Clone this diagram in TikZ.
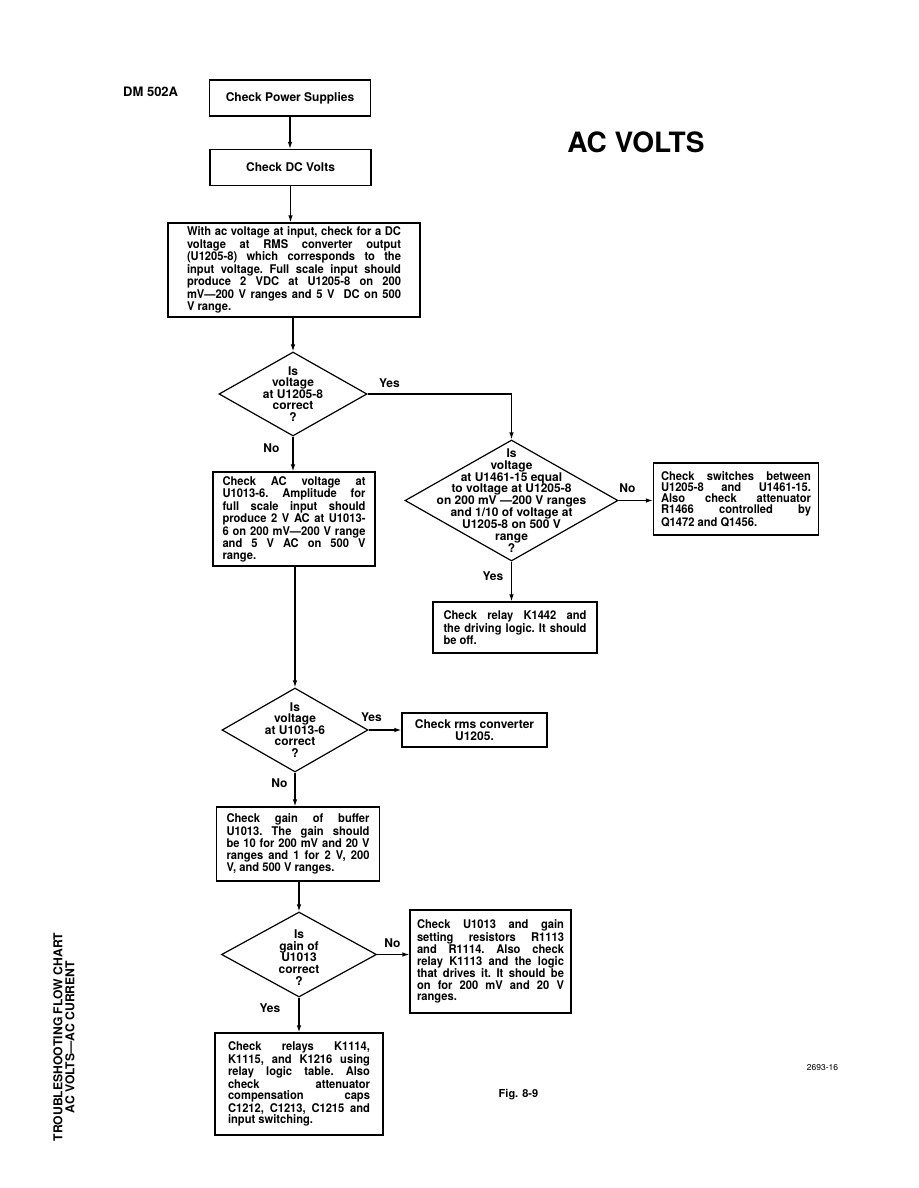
\documentclass[tikz,border=0pt]{standalone}
\usepackage{fontspec}
\setmainfont{TeX Gyre Heros}
\newfontfamily\condfont[FakeStretch=0.93]{TeX Gyre Heros}
\usetikzlibrary{shapes.geometric,arrows.meta}
\newcommand\bxfont{\condfont\fontsize{12}{11.3}\selectfont\bfseries\frenchspacing\tolerance=10000 \hbadness=10000 \hyphenpenalty=10000 }
\newcommand\lbfont{\fontsize{12}{11.6}\selectfont\bfseries}
\tikzset{
  box/.style={draw, line width=1.2pt, inner ysep=0pt, font=\bxfont, align=justify},
  cbox/.style={draw, line width=1.2pt, inner sep=0pt, font=\fontsize{12}{12}\selectfont\bfseries, align=center},
  dia/.style={draw, diamond, line width=1.2pt, inner sep=0pt},
  dtext/.style={font=\lbfont, align=center, inner sep=0pt},
  lbl/.style={font=\lbfont, inner sep=0pt},
  arr/.style={line width=1.2pt, -{Latex[length=7pt,width=4.5pt]}},
}
\begin{document}
\begin{tikzpicture}[x=1pt,y=-1pt]
\useasboundingbox (0,0) rectangle (918,1188);
\fill[white] (0,0) rectangle (918,1188);

% titles
\node[font=\fontsize{13}{13}\selectfont\bfseries, anchor=base west, inner sep=0pt] (dm) at (123,97) {DM 502A};
\node[font=\fontsize{28}{28}\selectfont\bfseries, anchor=base, inner sep=0pt] (title) at (636,153) {AC VOLTS};

% boxes
\node[cbox, minimum width=161pt, minimum height=36pt] (pwr) at (290,98) {Check Power Supplies};
\node[cbox, minimum width=161pt, minimum height=36pt] (dcv) at (290.5,167.5) {Check DC Volts};
\node[box, text width=214pt, inner xsep=19pt, minimum height=94pt] (b3) at (294,270)
 {With ac voltage at input, check for a DC\linebreak voltage at RMS converter output\linebreak (U1205-8) which corresponds to the\linebreak input voltage. Full scale input should\linebreak produce 2 VDC at U1205-8 on 200\linebreak mV—200 V ranges and 5 V\ \ DC on 500\linebreak V range.};

\node[dia, minimum width=148pt, minimum height=84pt] (d1) at (293,394) {};
\node[dtext] (d1t) at (d1.center) {Is\\voltage\\at U1205-8\\correct\\?};

\node[box, text width=143pt, inner xsep=9.5pt, minimum height=94pt] (b4) at (294,519)
 {Check AC voltage at\linebreak U1013-6. Amplitude for\linebreak full scale input should\linebreak produce 2 V AC at U1013-\linebreak 6 on 200 mV—200 V range\linebreak and 5 V AC on 500 V\linebreak range.};

\node[dia, minimum width=213pt, minimum height=121pt] (d2) at (511.5,500.5) {};
\node[dtext, font=\fontsize{12}{11.9}\selectfont\bfseries] (d2t) at (d2.center) {Is\\voltage\\at U1461-15 equal\\to voltage at U1205-8\\on 200 mV —200 V ranges\\and 1/10 of voltage at\\U1205-8 on 500 V\\range\\?};

\node[box, text width=150pt, inner xsep=7.5pt, minimum height=72pt] (b5) at (736,499)
 {Check switches between\linebreak U1205-8 and U1461-15.\linebreak Also check attenuator\linebreak R1466 controlled by\linebreak Q1472 and Q1456.};

\node[box, text width=143pt, inner xsep=10.5pt, minimum height=51pt] (b6) at (515,627.5)
 {Check relay K1442 and\linebreak the driving logic. It should\linebreak be off.};

\node[dia, minimum width=146pt, minimum height=84pt] (d3) at (295,730) {};
\node[dtext] (d3t) at (d3.center) {Is\\voltage\\at U1013-6\\correct\\?};

\node[cbox, minimum width=145pt, minimum height=34pt, font=\fontsize{12}{11.5}\selectfont\bfseries] (b7) at (474.5,730) {Check rms converter\\U1205.};

\node[box, text width=143pt, inner xsep=10pt, minimum height=74pt] (b8) at (298,844)
 {Check gain of buffer\linebreak U1013. The gain should\linebreak be 10 for 200 mV and 20 V\linebreak ranges and 1 for 2 V, 200\linebreak V, and 500 V ranges.};

\node[dia, minimum width=155pt, minimum height=85pt] (d4) at (299,954.5) {};
\node[dtext] (d4t) at ([yshift=-3pt]d4.center) {Is\\gain of\\U1013\\correct\\?};

\node[box, text width=147pt, inner xsep=7pt, minimum height=103pt] (b9) at (490.5,961.5)
 {Check U1013 and gain\linebreak setting resistors R1113\linebreak and R1114. Also check\linebreak relay K1113 and the logic\linebreak that drives it. It should be\linebreak on for 200 mV and 20 V\linebreak ranges.};

\node[box, text width=142pt, inner xsep=13pt, minimum height=102pt] (b10) at (299,1084)
 {Check relays K1114,\linebreak K1115, and K1216 using\linebreak relay logic table. Also\linebreak check attenuator\linebreak compensation caps\linebreak C1212, C1213, C1215 and\linebreak input switching.};

% connectors
\draw[arr] (pwr.south) -- (pwr.south |- dcv.north);
\draw[arr] (dcv.south) -- (dcv.south |- b3.north);
\draw[arr] (d1.north |- b3.south) -- (d1.north);
\draw[arr] (d1.east) -| (d2.north);
\draw[arr] (d1.south) -- (d1.south |- b4.north);
\draw[arr] (d2.east) -- (d2.east -| b5.west);
\draw[arr] (d2.south) -- (d2.south |- b6.north);
\draw[arr] (d3.north |- b4.south) -- (d3.north);
\draw[arr] (d3.east) -- (d3.east -| b7.west);
\draw[arr] (d3.south) -- (d3.south |- b8.north);
\draw[arr] (d4.north |- b8.south) -- (d4.north);
\draw[arr] (d4.east) -- (d4.east -| b9.west);
\draw[arr] (d4.south) -- (d4.south |- b10.north);

% connector labels
\node[lbl] (y1) at (389.5,383) {Yes};
\node[lbl] (n1) at (271.5,448) {No};
\node[lbl] (n2) at (627.5,488) {No};
\node[lbl] (y2) at (493,576) {Yes};
\node[lbl] (y3) at (371.5,717) {Yes};
\node[lbl] (n3) at (279.5,783) {No};
\node[lbl] (n4) at (392.5,943) {No};
\node[lbl] (y4) at (270,1008) {Yes};

% side and foot texts
\node[font=\fontsize{12.2}{12}\selectfont\bfseries, rotate=90, align=center, inner sep=0pt] (side) at (64,1037) {TROUBLESHOOTING FLOW CHART\\AC VOLTS—AC CURRENT};
\node[font=\fontsize{8.5}{8.5}\selectfont, inner sep=0pt] (num) at (822.5,1068) {2693-16};
\node[font=\fontsize{11}{11}\selectfont\bfseries, inner sep=0pt] (fig) at (518.5,1095) {Fig. 8-9};
\end{tikzpicture}
\end{document}
